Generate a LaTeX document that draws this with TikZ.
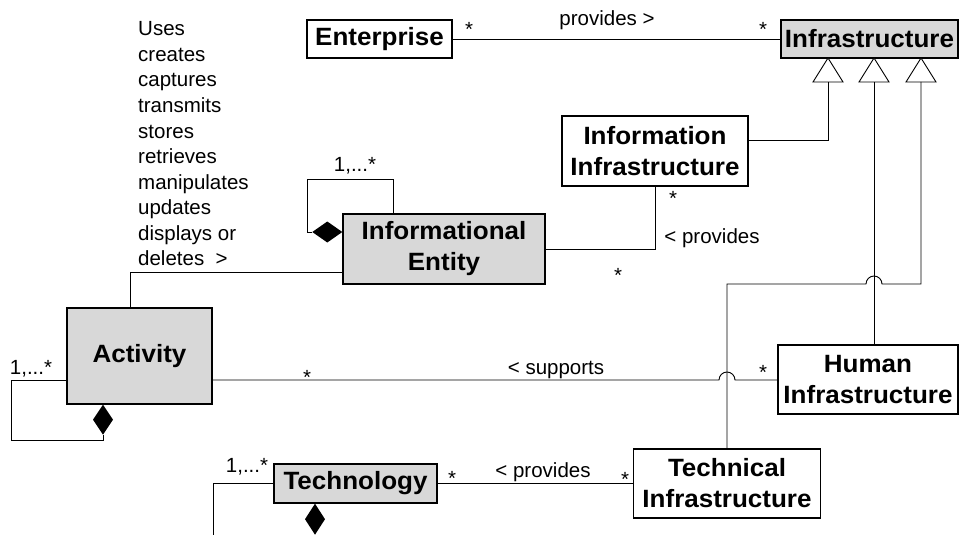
\documentclass[tikz,border=0pt]{standalone}
\usepackage{fontspec}
\setmainfont{Liberation Sans}
\newfontfamily\boxfont{Liberation Sans}[FakeStretch=1.04]
\definecolor{classgray}{RGB}{216,216,216}
\tikzset{
  cls/.style={draw, line width=1.4pt, inner sep=0pt, align=center,
    font=\boxfont\bfseries\fontsize{25}{31}\selectfont},
  abstractcls/.style={cls, fill=classgray},
  lbl/.style={font=\fontsize{20.5}{24}\selectfont, inner sep=0pt, anchor=base},
  verb/.style={font=\fontsize{20.5}{24}\selectfont, inner sep=0pt, anchor=base west},
  link/.style={line width=0.9pt},
}
\begin{document}
\begin{tikzpicture}[x=1pt,y=-1pt]
\useasboundingbox (0,0) rectangle (959,535);
\clip (0,0) rectangle (959,535);

% classes
\node[cls, minimum width=145pt, minimum height=38pt] (ent) at (379.5,39) {Enterprise};
\node[abstractcls, minimum width=177pt, minimum height=38pt] (inf) at (869.5,39) {Infrastructure};
\node[cls, minimum width=186pt, minimum height=70pt] (iinf) at (655,151) {Information\\Infrastructure};
\node[abstractcls, minimum width=202pt, minimum height=70pt] (ie) at (444,249) {Informational\\Entity};
\node[abstractcls, minimum width=145pt, minimum height=96pt] (act) at (139.5,356) {Activity};
\node[cls, minimum width=180pt, minimum height=69pt] (hinf) at (868,379.5) {Human\\Infrastructure};
\node[cls, minimum width=187pt, minimum height=69pt] (tinf) at (727,483.5) {Technical\\Infrastructure};
\node[abstractcls, minimum width=163pt, minimum height=39pt] (tech) at (355.5,483.5) {Technology};

% generalisation triangles under Infrastructure
\foreach \n/\x in {g1/828, g2/874, g3/921} {
  \coordinate (\n) at (\x,82);
  \draw[link, fill=white] (\n) ++(-15,0) -- ++(15,-24) -- ++(15,24) -- cycle;
}

% associations
\draw[link] (ent.east) -- (inf.west);
\draw[link] ([yshift=11pt]iinf.east) -| (g1);
\draw[link] (g2) -- (g2 |- hinf.north);
\coordinate (hop1) at (874,284);
\draw[link] (g3) |- ([xshift=8pt]hop1) arc[start angle=0, end angle=-180, radius=8]
  -- (tinf.north |- hop1) -- (tinf.north);
\coordinate (hop2) at (727,380);
\draw[link] ([yshift=-24pt]act.east) -- ([xshift=-8pt]hop2)
  arc[start angle=180, end angle=360, radius=8] -- (hinf.west |- hop2);
\draw[link] (iinf.south) |- (ie.east);
\draw[link] ([yshift=-23pt]ie.west) -| ([xshift=-9.5pt]act.north);
\draw[link] (tech.east) -- (tinf.west);

% composition loops
\coordinate (ied) at ([yshift=17pt]ie.west);
\fill (ied) -- ++(-15,-10.5) -- ++(-15,10.5) -- ++(15,10.5) -- cycle;
\draw[link] ([xshift=-30pt]ied) -| (307,179) -| ([xshift=-51pt]ie.north);

\coordinate (actd) at ([xshift=-36.5pt]act.south);
\fill (actd) -- ++(10,15) -- ++(-10,15) -- ++(-10,-15) -- cycle;
\draw[link] ([yshift=-24pt]act.west) -| (11,440) -| ([yshift=-30pt]actd);

\coordinate (techd) at ([xshift=-40.5pt]tech.south);
\fill (techd) -- ++(10,15.5) -- ++(-10,15.5) -- ++(-10,-15.5) -- cycle;
\draw[link] ([yshift=-31pt]techd) -- ++(0,10);
\draw[link] (tech.west) -| (213,545);

% multiplicities and role names
\node[lbl] (m1) at (469,37) {*};
\node[lbl] (r1) at (607,26) {provides >};
\node[lbl] (m2) at (763,37) {*};
\node[lbl] (m3) at (355,171) {1,...*};
\node[lbl] (m4) at (673,205) {*};
\node[lbl] (r2) at (712,243) {< provides};
\node[lbl] (m5) at (618,282) {*};
\node[lbl] (m6) at (31,374) {1,...*};
\node[lbl] (m7) at (307,384) {*};
\node[lbl] (r3) at (556,374) {< supports};
\node[lbl] (m8) at (763,379) {*};
\node[lbl] (m9) at (247,472) {1,...*};
\node[lbl] (m10) at (452,485) {*};
\node[lbl] (r4) at (543,477) {< provides};
\node[lbl] (m11) at (625,486) {*};

% verbs of the Activity - Informational Entity association
\foreach \w [count=\i from 0] in {Uses, creates, captures, transmits, stores,
    retrieves, manipulates, updates, displays or, {deletes\ \ >}} {
  \node[verb] (verb\i) at (138, 36+25.5*\i) {\w};
}
\end{tikzpicture}
\end{document}
